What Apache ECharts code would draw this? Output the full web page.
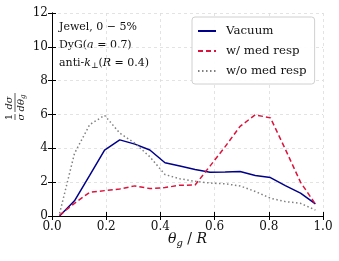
<!DOCTYPE html>
<html><head><meta charset="utf-8">
<script src="https://cdn.jsdelivr.net/npm/echarts@6/dist/echarts.min.js"></script>
<style>html,body{margin:0;padding:0;background:#fff}#c{width:339px;height:261px}</style>
</head><body><div id="c"></div>
<script>
const binCenters = [0.028,0.083,0.139,0.194,0.25,0.306,0.361,0.417,0.472,0.528,0.583,0.639,0.694,0.75,0.806,0.861,0.917,0.972];
const vacuum   = [0,0.9,2.4,3.9,4.5,4.25,3.9,3.15,2.95,2.75,2.58,2.6,2.63,2.4,2.27,1.8,1.35,0.72];
const withMed  = [0.05,0.75,1.4,1.5,1.6,1.78,1.62,1.68,1.82,1.83,2.95,4.1,5.3,5.98,5.8,3.95,2.0,0.7];
const withoutMed = [0.15,3.7,5.4,5.95,4.9,4.3,3.5,2.45,2.2,2.05,1.95,1.9,1.78,1.45,1.05,0.85,0.75,0.35];
const xTicks = [0,0.2,0.4,0.6,0.8,1.0];
const yTicks = [0,2,4,6,8,10,12];
const seriesNames = ['Vacuum','w/ med resp','w/o med resp'];

const F = 'DejaVu Serif';
const pair = (ys) => binCenters.map((x,i)=>[x,ys[i]]);
const chart = echarts.init(document.getElementById('c'));
const gridLine = {show:true,lineStyle:{color:'#dcdcdc',type:[3,3],width:0.8}};
const frame = {show:true,lineStyle:{color:'#000',width:1}};
const ticks = {inside:true,length:4,lineStyle:{color:'#000',width:1}};
chart.setOption({
  animation:false,
  backgroundColor:'#fff',
  grid:{left:52,right:16,top:13,bottom:45},
  xAxis:[{type:'value',min:0,max:1,interval:0.2,
    axisLine:frame,axisTick:ticks,
    axisLabel:{color:'#111',fontFamily:F,fontSize:12,margin:5,formatter:v=>v.toFixed(1)},
    splitLine:gridLine},
   {type:'value',position:'top',min:0,max:1,interval:0.2,
    axisLine:frame,axisTick:ticks,
    axisLabel:{show:false},splitLine:{show:false}}],
  yAxis:[{type:'value',min:0,max:12,interval:2,
    axisLine:frame,axisTick:ticks,
    axisLabel:{color:'#111',fontFamily:F,fontSize:12,margin:4,formatter:v=>String(yTicks[yTicks.indexOf(v)])},
    splitLine:gridLine},
   {type:'value',position:'right',min:0,max:12,interval:2,
    axisLine:frame,axisTick:ticks,
    axisLabel:{show:false},splitLine:{show:false}}],
  legend:{left:192,top:17,orient:'vertical',itemWidth:18,itemHeight:10,itemGap:8,
    padding:[8,8,7,5],
    borderColor:'#d0d0d0',borderWidth:1,borderRadius:3,backgroundColor:'rgba(255,255,255,0.9)',
    itemStyle:{opacity:0},
    textStyle:{fontFamily:F,fontSize:11.8,color:'#111',padding:[0,0,0,5]},
    data:seriesNames},
  series:[
    {name:seriesNames[0],type:'line',data:pair(vacuum),symbol:'none',
      lineStyle:{color:'#00008b',width:1.5},itemStyle:{color:'#00008b'}},
    {name:seriesNames[1],type:'line',data:pair(withMed),symbol:'none',
      lineStyle:{color:'#dc143c',width:1.5,type:[5,3]},itemStyle:{color:'#dc143c'}},
    {name:seriesNames[2],type:'line',data:pair(withoutMed),symbol:'none',
      lineStyle:{color:'#808080',width:1.5,type:[1.5,2.5]},itemStyle:{color:'#808080'}}
  ],
  graphic:[
    {type:'text',left:59,top:22,style:{text:'Jewel, 0 − 5%',font:'11px '+F,fill:'#111'}},
    {type:'text',left:59,top:40,style:{rich:{i:{fontStyle:'italic',fontFamily:F,fontSize:11,fill:'#111'},n:{fontFamily:F,fontSize:11,fill:'#111'}},
      text:'{n|DyG(}{i|a}{n| = 0.7)}'}},
    {type:'text',left:59,top:58,style:{rich:{i:{fontStyle:'italic',fontFamily:F,fontSize:11,fill:'#111'},n:{fontFamily:F,fontSize:11,fill:'#111'},s:{fontFamily:F,fontSize:8,fill:'#111',padding:[5,0,0,0]}},
      text:'{n|anti-}{i|k}{s|⊥}{n|(}{i|R}{n| = 0.4)}'}},
    {type:'text',left:168,top:232,style:{rich:{i:{fontStyle:'italic',fontFamily:F,fontSize:14,fill:'#111'},s:{fontStyle:'italic',fontFamily:F,fontSize:10,fill:'#111',padding:[8,0,0,0]},n:{fontFamily:F,fontSize:14,fill:'#111'}},
      text:'{i|θ}{s|g}{n| / }{i|R}'}},
    {type:'group',x:15,y:106,rotation:Math.PI/2,children:[
      {type:'text',x:-11,y:-11,style:{text:'1',font:'10px '+F,fill:'#111',align:'center'}},
      {type:'line',shape:{x1:-14,y1:0,x2:-8,y2:0},style:{stroke:'#111',lineWidth:0.7}},
      {type:'text',x:-11,y:1,style:{text:'σ',font:'italic 10px '+F,fill:'#111',align:'center'}},
      {type:'text',x:3,y:-11,style:{text:'dσ',font:'italic 10px '+F,fill:'#111',align:'center'}},
      {type:'line',shape:{x1:-6,y1:0,x2:13,y2:0},style:{stroke:'#111',lineWidth:0.7}},
      {type:'text',x:3,y:1,style:{rich:{a:{fontStyle:'italic',fontFamily:F,fontSize:10,fill:'#111'},b:{fontStyle:'italic',fontFamily:F,fontSize:7,fill:'#111',padding:[4,0,0,0]}},text:'{a|dθ}{b|g}',align:'center'}}
    ]}
  ]
});
</script></body></html>
